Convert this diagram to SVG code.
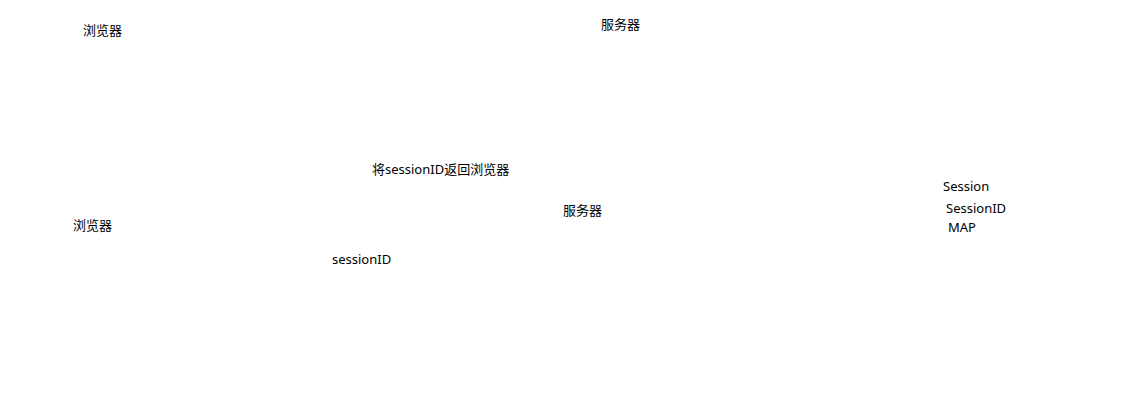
<svg xmlns="http://www.w3.org/2000/svg" width="1140" height="403" viewBox="0 0 1140 403">
  <style>
    .lbl { font-family: "Noto Sans", "Noto Sans CJK SC", sans-serif; font-size: 13px; fill: #000000; }
  </style>
  <rect width="1140" height="403" fill="#ffffff"/>
  <g id="connectors"></g>
  <g id="browser-top"><text class="lbl" x="83" y="35">浏览器</text></g>
  <g id="server-top"><text class="lbl" x="601" y="29">服务器</text></g>
  <g id="label-return"><text class="lbl" x="372" y="174">将sessionID返回浏览器</text></g>
  <g id="session-map">
    <text class="lbl" x="943" y="191">Session</text>
    <text class="lbl" x="946" y="213">SessionID</text>
    <text class="lbl" x="948" y="232">MAP</text>
  </g>
  <g id="server-bottom"><text class="lbl" x="563" y="215">服务器</text></g>
  <g id="browser-bottom"><text class="lbl" x="73" y="230">浏览器</text></g>
  <g id="label-sessionid"><text class="lbl" x="332" y="264">sessionID</text></g>
</svg>
